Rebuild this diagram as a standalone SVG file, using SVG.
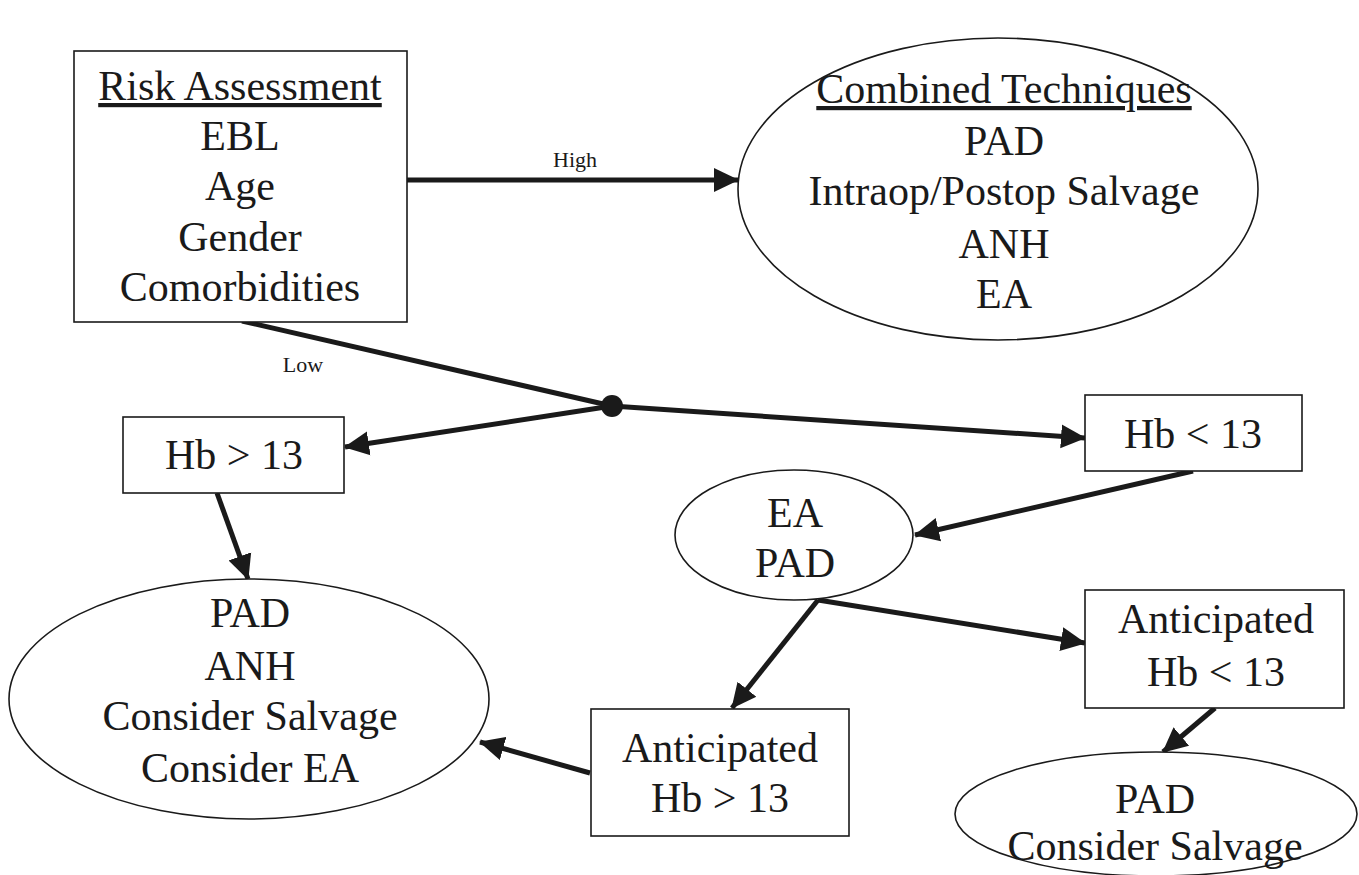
<svg xmlns="http://www.w3.org/2000/svg" width="1359" height="875" viewBox="0 0 1359 875">
<style>
.n{fill:#fff;stroke:#1a1a1a;stroke-width:1.6}
.t{font-family:"Liberation Serif","Times New Roman",serif;font-size:42px;fill:#1a1a1a;text-anchor:middle}
.l{font-family:"Liberation Serif","Times New Roman",serif;font-size:22px;fill:#1a1a1a;text-anchor:middle}
.c{fill:none;stroke:#1a1a1a;stroke-width:5}
.a{marker-end:url(#ah)}
</style>
<defs>
<marker id="ah" markerUnits="userSpaceOnUse" markerWidth="26" markerHeight="26" refX="24" refY="13" orient="auto" viewBox="0 0 26 26">
<path d="M0,1 L25,13 L0,25 z" fill="#1a1a1a"/>
</marker>
</defs>
<rect width="1359" height="875" fill="#fff"/>
<g id="connectors">
<line class="c a" x1="407" y1="180" x2="738" y2="180"/>
<text class="l" x="575" y="167">High</text>
<line class="c" x1="242" y1="321" x2="612" y2="406"/>
<text class="l" x="303" y="372">Low</text>
<line class="c a" x1="612" y1="406" x2="345" y2="447"/>
<line class="c a" x1="612" y1="406" x2="1085" y2="438"/>
<circle cx="612" cy="406" r="11" fill="#1a1a1a"/>
<line class="c a" x1="217" y1="493" x2="248" y2="579"/>
<line class="c a" x1="1193" y1="471" x2="915" y2="535"/>
<line class="c a" x1="818" y1="600" x2="1085" y2="643"/>
<line class="c a" x1="818" y1="600" x2="732" y2="708"/>
<line class="c a" x1="590" y1="773" x2="480" y2="742"/>
<line class="c a" x1="1215" y1="708" x2="1163" y2="752"/>
</g>
<g id="risk">
<rect class="n" x="74" y="51" width="333" height="271"/>
<text class="t" x="240" y="100" text-decoration="underline">Risk Assessment</text>
<text class="t" x="240" y="150">EBL</text>
<text class="t" x="240" y="200">Age</text>
<text class="t" x="240" y="251">Gender</text>
<text class="t" x="240" y="301">Comorbidities</text>
</g>
<g id="combined">
<ellipse class="n" cx="998" cy="189" rx="260" ry="151"/>
<text class="t" x="1004" y="103" text-decoration="underline">Combined Techniques</text>
<text class="t" x="1004" y="155">PAD</text>
<text class="t" x="1004" y="205">Intraop/Postop Salvage</text>
<text class="t" x="1004" y="258">ANH</text>
<text class="t" x="1004" y="308">EA</text>
</g>
<g id="hbgt13">
<rect class="n" x="123" y="417" width="221" height="76"/>
<text class="t" x="234" y="469">Hb &gt; 13</text>
</g>
<g id="hblt13">
<rect class="n" x="1085" y="395" width="217" height="76"/>
<text class="t" x="1193" y="448">Hb &lt; 13</text>
</g>
<g id="eapad">
<ellipse class="n" cx="794" cy="535" rx="119" ry="65"/>
<text class="t" x="795" y="527">EA</text>
<text class="t" x="795" y="577">PAD</text>
</g>
<g id="bigellipse">
<ellipse class="n" cx="249" cy="699" rx="240" ry="120"/>
<text class="t" x="250" y="627">PAD</text>
<text class="t" x="250" y="680">ANH</text>
<text class="t" x="250" y="730">Consider Salvage</text>
<text class="t" x="250" y="782">Consider EA</text>
</g>
<g id="anticgt">
<rect class="n" x="591" y="709" width="258" height="127"/>
<text class="t" x="720" y="762">Anticipated</text>
<text class="t" x="720" y="812">Hb &gt; 13</text>
</g>
<g id="anticlt">
<rect class="n" x="1085" y="590" width="259" height="118"/>
<text class="t" x="1216" y="633">Anticipated</text>
<text class="t" x="1216" y="686">Hb &lt; 13</text>
</g>
<g id="padsalvage">
<ellipse class="n" cx="1156" cy="814" rx="201" ry="62"/>
<text class="t" x="1155" y="813">PAD</text>
<text class="t" x="1155" y="860">Consider Salvage</text>
</g>
</svg>
